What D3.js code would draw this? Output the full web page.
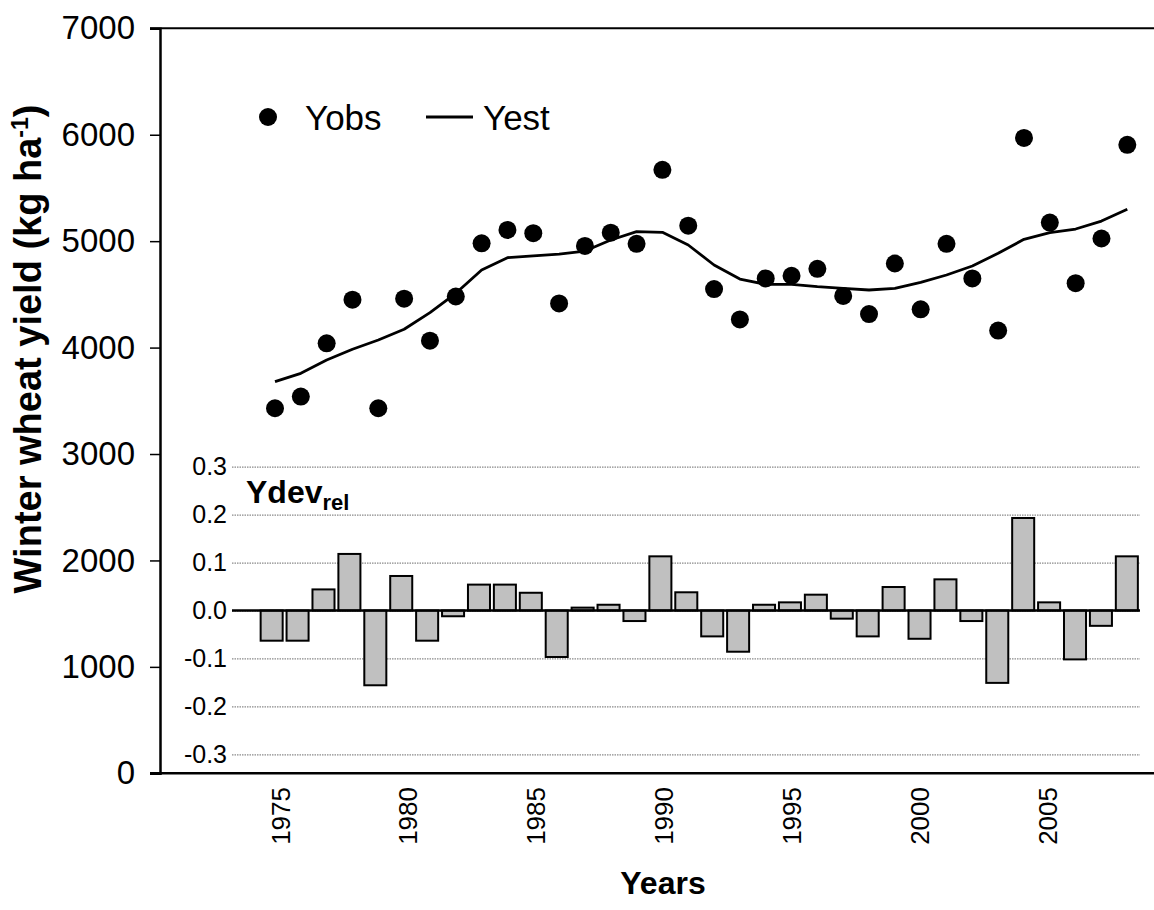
<!DOCTYPE html>
<html>
<head>
<meta charset="utf-8">
<script src="https://cdn.jsdelivr.net/npm/d3@7"></script>
<style>
  html, body { margin: 0; padding: 0; background: #fff; }
  svg { display: block; font-family: Arial, "Liberation Sans", sans-serif; }
</style>
</head>
<body>
<div id="chart"></div>
<script>
// yearly winter wheat yield, observed vs estimated trend, plus relative deviation
const YEARS = d3.range(1975, 2009);
const YOBS = [3430, 3540, 4040, 4450, 3430, 4460, 4065, 4480, 4980, 5105, 5075, 4415, 4955, 5080, 4975,
              5670, 5145, 4550, 4265, 4650, 4675, 4740, 4485, 4315, 4790, 4360, 4975, 4650, 4160, 5970,
              5175, 4605, 5025, 5905];
const YEST = [3680, 3758, 3883, 3984, 4071, 4172, 4328, 4510, 4729, 4845, 4862, 4879, 4907, 5011, 5089,
              5083, 4964, 4776, 4644, 4594, 4594, 4572, 4557, 4541, 4557, 4613, 4682, 4767, 4886, 5017,
              5080, 5114, 5189, 5299];
const YDEV = [-0.063, -0.063, 0.044, 0.118, -0.156, 0.072, -0.063, -0.012, 0.054, 0.054, 0.037, -0.097,
              0.006, 0.012, -0.022, 0.113, 0.038, -0.054, -0.086, 0.012, 0.017, 0.033, -0.017, -0.054,
              0.049, -0.059, 0.065, -0.022, -0.151, 0.193, 0.017, -0.102, -0.032, 0.113];
const YIELD_TICKS = [0, 1000, 2000, 3000, 4000, 5000, 6000, 7000];
const DEV_TICKS = [-0.3, -0.2, -0.1, 0, 0.1, 0.2, 0.3];
const YEAR_TICKS = [1975, 1980, 1985, 1990, 1995, 2000, 2005];

const W = 1154, H = 910;
const svg = d3.select('#chart').append('svg').attr('width', W).attr('height', H);

// scales
const y = d3.scaleLinear().domain([0, 7000]).range([773.3, 28.3]);
const yDev = d3.scaleLinear().domain([-0.3, 0.3]).range([754.3, 466.7]);
const xBar = d3.scaleBand().domain(YEARS).range([258.7, 1139.8]).paddingInner(0.15).paddingOuter(0.075);
const xPt = d3.scaleLinear().domain([1975, 2008]).range([275, 1127.3]);
const xLab = d3.scaleLinear().domain([1975, 2005]).range([280, 1047.5]);

// frame lines (top and bottom run to the right edge)
svg.append('line').attr('x1', 150).attr('x2', W).attr('y1', y(7000)).attr('y2', y(7000))
  .attr('stroke', '#000').attr('stroke-width', 2);
svg.append('line').attr('x1', 150).attr('x2', W).attr('y1', y(0)).attr('y2', y(0))
  .attr('stroke', '#000').attr('stroke-width', 2.5);

// main y axis
const ax = svg.append('g').attr('transform', 'translate(160,0)')
  .call(d3.axisLeft(y).tickValues(YIELD_TICKS).tickSize(10).tickPadding(15).tickFormat(d3.format('d')));
ax.select('.domain').attr('stroke-width', 2.5);
ax.selectAll('.tick line').attr('stroke-width', 1.5);
ax.selectAll('.tick text').attr('font-size', 33).attr('fill', '#000').attr('font-family', 'Arial, "Liberation Sans", sans-serif');

// deviation grid + labels
const gx0 = 232, gx1 = 1140;
const dg = svg.append('g').attr('transform', `translate(${gx0},0)`)
  .call(d3.axisLeft(yDev).tickValues(DEV_TICKS).tickSizeInner(-(gx1 - gx0)).tickSizeOuter(0)
    .tickPadding(5).tickFormat(d => d.toFixed(1)));
dg.select('.domain').remove();
dg.selectAll('.tick line').attr('stroke', '#8a8a8a').attr('stroke-width', 1.3).attr('stroke-dasharray', '1.5 1');
dg.selectAll('.tick text').attr('font-size', 25).attr('fill', '#000').attr('font-family', 'Arial, "Liberation Sans", sans-serif');

// deviation bars
svg.append('g').selectAll('rect').data(YEARS).join('rect')
  .attr('x', (d) => xBar(d))
  .attr('width', xBar.bandwidth())
  .attr('y', (d, i) => yDev(Math.max(0, YDEV[i])))
  .attr('height', (d, i) => Math.abs(yDev(YDEV[i]) - yDev(0)))
  .attr('fill', '#c0c0c0').attr('stroke', '#000').attr('stroke-width', 2);
svg.append('line').attr('x1', gx0).attr('x2', gx1).attr('y1', yDev(0)).attr('y2', yDev(0))
  .attr('stroke', '#000').attr('stroke-width', 2.5);

const ydl = svg.append('text').attr('x', 246).attr('y', 503).attr('font-size', 32).attr('font-weight', 'bold');
ydl.append('tspan').text('Ydev');
ydl.append('tspan').attr('font-size', 22).attr('dy', 7).text('rel');

// estimated trend line and observed yields
svg.append('path')
  .attr('d', d3.line().x((d, i) => xPt(YEARS[i])).y(d => y(d))(YEST))
  .attr('fill', 'none').attr('stroke', '#000').attr('stroke-width', 2.8).attr('stroke-linejoin', 'round');
svg.append('g').selectAll('circle').data(YOBS).join('circle')
  .attr('cx', (d, i) => xPt(YEARS[i])).attr('cy', d => y(d)).attr('r', 9).attr('fill', '#000');

// legend
svg.append('circle').attr('cx', 268).attr('cy', 117).attr('r', 9).attr('fill', '#000');
svg.append('text').attr('x', 305).attr('y', 130).attr('font-size', 35).text('Yobs');
svg.append('line').attr('x1', 426).attr('x2', 473).attr('y1', 117).attr('y2', 117)
  .attr('stroke', '#000').attr('stroke-width', 2.8);
svg.append('text').attr('x', 483).attr('y', 130).attr('font-size', 35).text('Yest');

// year labels (rotated)
svg.append('g').selectAll('text').data(YEAR_TICKS).join('text')
  .attr('transform', d => `translate(${xLab(d) + 9.5},787) rotate(-90)`)
  .attr('text-anchor', 'end').attr('font-size', 26).text(d => d);

// axis titles
svg.append('text').attr('x', 663).attr('y', 894).attr('text-anchor', 'middle')
  .attr('font-size', 32).attr('font-weight', 'bold').text('Years');
const yt = svg.append('text').attr('transform', 'translate(41,349) rotate(-90)')
  .attr('text-anchor', 'middle').attr('font-size', 38).attr('font-weight', 'bold');
yt.append('tspan').text('Winter wheat yield (kg ha');
yt.append('tspan').attr('font-size', 23).attr('dy', -13).text('-1');
yt.append('tspan').attr('dy', 13).text(')');
</script>
</body>
</html>
